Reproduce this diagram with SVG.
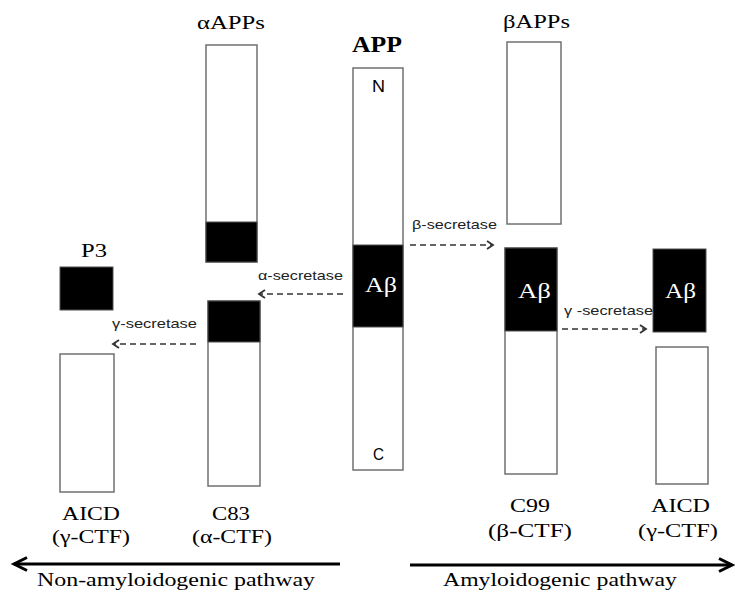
<svg xmlns="http://www.w3.org/2000/svg" width="735" height="597" viewBox="0 0 735 597">
<style>
.box{fill:#fff;stroke:#707070;stroke-width:1.5}
.blk{fill:#000;stroke:#505050;stroke-width:1}
.lbl{font-family:"Liberation Serif","Times New Roman","DejaVu Serif",serif;font-size:19px;fill:#000}
.bold{font-weight:bold;font-size:23px}
.ab{font-family:"Liberation Serif","Times New Roman","DejaVu Serif",serif;font-size:21px;fill:#fff}
.nc{font-family:"Liberation Sans",Arial,sans-serif;font-size:17px;fill:#000}
.sec{font-family:"Liberation Sans",Arial,sans-serif;font-size:13.5px;fill:#222}
.dash{stroke:#333;stroke-width:1.7;stroke-dasharray:6 4;fill:none}
.thick{stroke:#000;stroke-width:3;fill:none}
</style>
<defs>
<marker id="chev" markerUnits="userSpaceOnUse" markerWidth="12" markerHeight="12" refX="8" refY="5" orient="auto" viewBox="0 0 12 12">
<path d="M2,1 L8,5 L2,9" fill="none" stroke="#333" stroke-width="1.8"/>
</marker>
<marker id="bigchev" markerUnits="userSpaceOnUse" markerWidth="20" markerHeight="20" refX="16" refY="8" orient="auto" viewBox="0 0 20 20">
<path d="M3,1.5 L16,8 L3,14.5" fill="none" stroke="#000" stroke-width="3"/>
</marker>
</defs>

<g id="app">
<rect class="box" x="353" y="68" width="50" height="402"/>
<rect class="blk" x="353" y="245" width="50" height="82"/>
<text class="lbl bold" x="352" y="52" textLength="50" lengthAdjust="spacingAndGlyphs">APP</text>
<text class="nc" x="372" y="92" textLength="13" lengthAdjust="spacingAndGlyphs">N</text>
<text class="nc" x="373" y="460" textLength="11" lengthAdjust="spacingAndGlyphs">C</text>
<text class="ab" x="365" y="292" textLength="32" lengthAdjust="spacingAndGlyphs">Aβ</text>
</g>

<g id="aAPPs">
<rect class="box" x="206" y="45" width="51" height="217"/>
<rect class="blk" x="206" y="222" width="51" height="40"/>
<text class="lbl" x="197" y="29" textLength="68" lengthAdjust="spacingAndGlyphs">αAPPs</text>
</g>

<g id="c83">
<rect class="box" x="208" y="301" width="52" height="185"/>
<rect class="blk" x="208" y="301" width="52" height="41"/>
<text class="lbl" x="212" y="520" textLength="38" lengthAdjust="spacingAndGlyphs">C83</text>
<text class="lbl" x="192" y="543" textLength="80" lengthAdjust="spacingAndGlyphs">(α-CTF)</text>
</g>

<g id="p3">
<rect class="blk" x="60" y="267" width="53" height="43"/>
<text class="lbl" x="81" y="257" textLength="26" lengthAdjust="spacingAndGlyphs">P3</text>
</g>

<g id="aicd-left">
<rect class="box" x="60" y="354" width="54" height="138"/>
<text class="lbl" x="62" y="520" textLength="58" lengthAdjust="spacingAndGlyphs">AICD</text>
<text class="lbl" x="52" y="543" textLength="78" lengthAdjust="spacingAndGlyphs">(γ-CTF)</text>
</g>

<g id="bAPPs">
<rect class="box" x="507" y="42" width="54" height="182"/>
<text class="lbl" x="503" y="28" textLength="67" lengthAdjust="spacingAndGlyphs">βAPPs</text>
</g>

<g id="c99">
<rect class="box" x="505" y="248" width="52" height="226"/>
<rect class="blk" x="505" y="248" width="52" height="83"/>
<text class="ab" x="518" y="298" textLength="33" lengthAdjust="spacingAndGlyphs">Aβ</text>
<text class="lbl" x="510" y="512" textLength="40" lengthAdjust="spacingAndGlyphs">C99</text>
<text class="lbl" x="488" y="537" textLength="84" lengthAdjust="spacingAndGlyphs">(β-CTF)</text>
</g>

<g id="ab-right">
<rect class="blk" x="653" y="249" width="53" height="83"/>
<text class="ab" x="665" y="298" textLength="31" lengthAdjust="spacingAndGlyphs">Aβ</text>
</g>

<g id="aicd-right">
<rect class="box" x="656" y="347" width="52" height="137"/>
<text class="lbl" x="651" y="512" textLength="59" lengthAdjust="spacingAndGlyphs">AICD</text>
<text class="lbl" x="638" y="537" textLength="80" lengthAdjust="spacingAndGlyphs">(γ-CTF)</text>
</g>

<g id="connectors">
<line class="dash" x1="343" y1="294" x2="259" y2="294" marker-end="url(#chev)"/>
<text class="sec" x="258" y="280" textLength="85" lengthAdjust="spacingAndGlyphs">α-secretase</text>
<line class="dash" x1="196" y1="344" x2="113" y2="344" marker-end="url(#chev)"/>
<text class="sec" x="112" y="328" textLength="85" lengthAdjust="spacingAndGlyphs">γ-secretase</text>
<line class="dash" x1="410" y1="245" x2="493" y2="245" marker-end="url(#chev)"/>
<text class="sec" x="412" y="229" textLength="85" lengthAdjust="spacingAndGlyphs">β-secretase</text>
<line class="dash" x1="562" y1="329" x2="646" y2="329" marker-end="url(#chev)"/>
<text class="sec" x="564" y="315" textLength="89" lengthAdjust="spacingAndGlyphs">γ -secretase</text>
<line class="thick" x1="340" y1="564" x2="14" y2="564" marker-end="url(#bigchev)"/>
<text class="lbl" x="37" y="586" font-size="20" textLength="278" lengthAdjust="spacingAndGlyphs">Non-amyloidogenic pathway</text>
<line class="thick" x1="410" y1="565" x2="732" y2="565" marker-end="url(#bigchev)"/>
<text class="lbl" x="443" y="586" font-size="20" textLength="234" lengthAdjust="spacingAndGlyphs">Amyloidogenic pathway</text>
</g>
</svg>
